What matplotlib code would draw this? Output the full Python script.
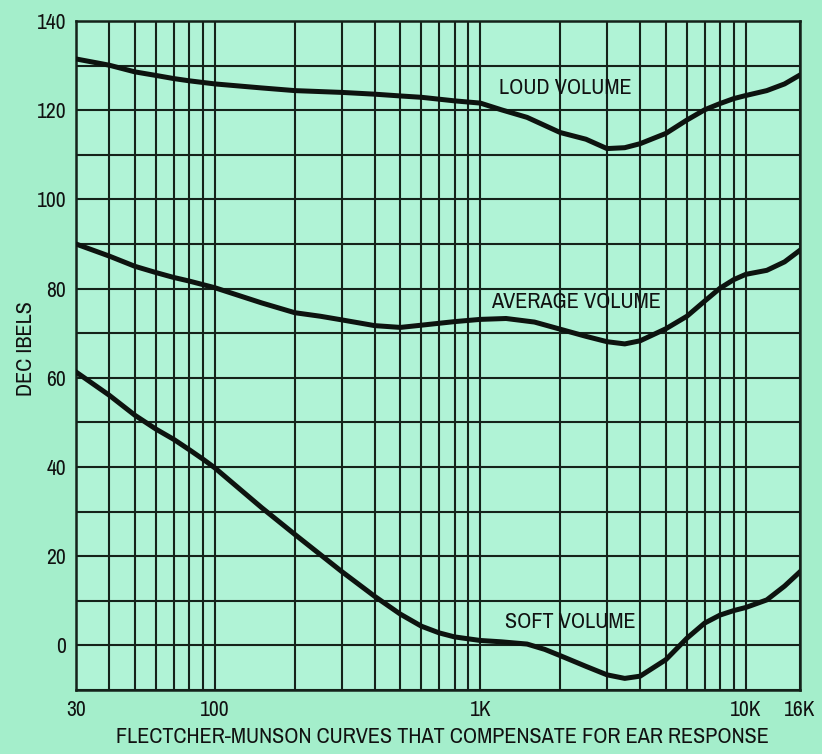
import numpy as np
import matplotlib as mpl
mpl.use('Agg')
import matplotlib.pyplot as plt
from matplotlib.ticker import FixedLocator, NullFormatter

mpl.rcParams['font.family'] = ['Archivo Narrow', 'DejaVu Sans']
mpl.rcParams['font.weight'] = 'medium'

# loudness curves (Hz, dB)
loud_f = [30, 40, 50, 60, 70, 80, 100, 150, 200, 300, 400, 500, 600, 800, 1000,
          1200, 1500, 2000, 2500, 3000, 3500, 4000, 5000, 6000, 7000, 8000, 9000,
          10000, 12000, 14000, 16000]
loud_db = [131.5, 130.1, 128.6, 127.8, 127.1, 126.6, 125.9, 125.0, 124.4, 124.0,
           123.6, 123.2, 122.9, 122.1, 121.6, 120.1, 118.4, 115.0, 113.5, 111.4,
           111.6, 112.5, 114.8, 117.8, 120.1, 121.5, 122.6, 123.3, 124.4, 125.9, 127.9]

avg_f = [30, 40, 50, 60, 70, 80, 100, 150, 200, 250, 300, 400, 500, 600, 800, 1000,
         1250, 1600, 2000, 2500, 3000, 3500, 4000, 5000, 6000, 7000, 8000, 9000,
         10000, 12000, 14000, 16000]
avg_db = [90.0, 87.3, 85.0, 83.6, 82.5, 81.7, 80.2, 76.8, 74.6, 73.8, 73.0, 71.7,
          71.3, 71.8, 72.6, 73.1, 73.3, 72.5, 70.9, 69.3, 68.1, 67.6, 68.3, 71.0,
          73.8, 77.2, 80.1, 82.0, 83.2, 84.1, 86.0, 88.6]

soft_f = [30, 40, 50, 60, 70, 80, 90, 100, 150, 200, 300, 400, 500, 600, 700, 800,
          1000, 1200, 1500, 1750, 2000, 2500, 3000, 3500, 4000, 5000, 6000, 7000,
          8000, 9000, 10000, 12000, 14000, 16000]
soft_db = [61.3, 56.1, 51.6, 48.5, 46.2, 43.9, 41.8, 39.8, 30.9, 24.9, 16.6, 11.0,
           7.0, 4.3, 2.8, 1.9, 1.1, 0.8, 0.3, -0.9, -2.3, -4.7, -6.6, -7.4, -6.9,
           -3.2, 1.6, 5.0, 6.8, 7.8, 8.5, 10.2, 13.3, 16.5]

x_major = [30, 100, 1000, 10000, 16000]
x_labels = ['30', '100', '1K', '10K', '16K']
x_minor = [40, 50, 60, 70, 80, 90, 200, 300, 400, 500, 600, 700, 800, 900,
           2000, 3000, 4000, 5000, 6000, 7000, 8000, 9000]
y_major = [0, 20, 40, 60, 80, 100, 120, 140]
y_minor = [-10, 10, 30, 50, 70, 90, 110, 130]

ink = '#14221a'
bg = '#b0f3d6'

fig = plt.figure(figsize=(8.22, 7.54), dpi=100, facecolor='#a4eecb')
ax = fig.add_axes([0.0925, 0.0849, 0.8807, 0.8872])
ax.set_facecolor(bg)

ax.set_xscale('log')
ax.set_xlim(30, 16000)
ax.set_ylim(-10, 140)

ax.xaxis.set_major_locator(FixedLocator(x_major))
ax.set_xticklabels(x_labels)
ax.xaxis.set_minor_locator(FixedLocator(x_minor))
ax.xaxis.set_minor_formatter(NullFormatter())
ax.yaxis.set_major_locator(FixedLocator(y_major))
ax.yaxis.set_minor_locator(FixedLocator(y_minor))
ax.yaxis.set_minor_formatter(NullFormatter())

ax.grid(True, which='both', color=ink, linewidth=1.5)
ax.set_axisbelow(True)
ax.tick_params(which='both', length=0, labelsize=15.5, colors='#111111')
ax.tick_params(axis='x', pad=7)
ax.tick_params(axis='y', pad=7)
for s in ax.spines.values():
    s.set_color(ink)
    s.set_linewidth(1.8)

for f, db in [(loud_f, loud_db), (avg_f, avg_db), (soft_f, soft_db)]:
    ax.plot(f, db, color='#0d130f', linewidth=3.6, solid_joinstyle='round', zorder=3)

ax.text(1180, 125, 'LOUD VOLUME', fontsize=16, ha='left', va='center', color='#111111')
ax.text(1100, 76.9, 'AVERAGE VOLUME', fontsize=16, ha='left', va='center', color='#111111')
ax.text(1240, 5.3, 'SOFT VOLUME', fontsize=16, ha='left', va='center', color='#111111')

ax.set_ylabel('DEC IBELS', fontsize=16, color='#111111')
ax.yaxis.set_label_coords(-0.055, 0.51)

fig.text(0.538, 1 - 737 / 754, 'FLECTCHER-MUNSON CURVES THAT COMPENSATE FOR EAR RESPONSE',
         fontsize=16, ha='center', va='center', color='#111111')

plt.savefig('out.png', dpi=100, facecolor=fig.get_facecolor())
